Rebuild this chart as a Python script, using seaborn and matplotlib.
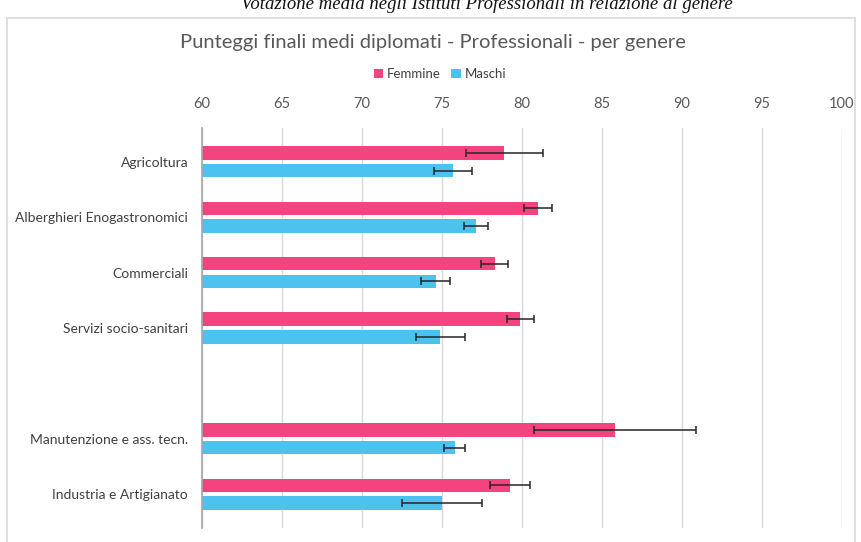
import matplotlib
matplotlib.use("Agg")
import matplotlib.pyplot as plt
from matplotlib.patches import Rectangle
import seaborn as sns
import pandas as pd

# ---- data ----
categories = ["Agricoltura", "Alberghieri Enogastronomici", "Commerciali",
              "Servizi socio-sanitari", "Manutenzione e ass. tecn.",
              "Industria e Artigianato"]
order = ["Agricoltura", "Alberghieri Enogastronomici", "Commerciali",
         "Servizi socio-sanitari", " ", "Manutenzione e ass. tecn.",
         "Industria e Artigianato"]
femmine = [78.9, 81.0, 78.3, 79.9, 85.8, 79.25]
maschi = [75.7, 77.1, 74.6, 74.9, 75.8, 75.0]
err_femmine = [2.4, 0.85, 0.85, 0.85, 5.05, 1.25]
err_maschi = [1.2, 0.75, 0.9, 1.55, 0.65, 2.5]
xticks = [60, 65, 70, 75, 80, 85, 90, 95, 100]
groups = ["Femmine", "Maschi"]

title = "Punteggi finali medi diplomati - Professionali - per genere"
top_title = "Votazione media negli Istituti Professionali in relazione al genere"

PINK = "#F4447F"
BLUE = "#4BC3EE"

df = pd.DataFrame({
    "cat": categories * 2,
    "genere": [groups[0]] * len(categories) + [groups[1]] * len(categories),
    "val": femmine + maschi,
    "err": err_femmine + err_maschi,
})

sns.set_theme(style="white")
plt.rcParams["font.family"] = ["Lato", "DejaVu Sans"]

fig = plt.figure(figsize=(8.62, 5.42), dpi=100)
ax = fig.add_axes([202 / 862, 1 - 528 / 542, 640 / 862, 400 / 542])

sns.barplot(data=df, x="val", y="cat", hue="genere", order=order,
            hue_order=groups, palette=[PINK, BLUE], orient="h",
            errorbar=None, width=0.64, gap=0.24, ax=ax, legend=True,
            saturation=1, linewidth=0)

# error bars from bar geometry
errs = {}
for c, ef, em in zip(categories, err_femmine, err_maschi):
    errs[(c, 0)] = ef
    errs[(c, 1)] = em
for p in ax.patches:
    if p.get_height() <= 0 or p.get_width() <= 0:
        continue
    yc = p.get_y() + p.get_height() / 2
    i = int(round(yc))
    if i < 0 or i >= len(order) or order[i].strip() == "":
        continue
    h = 0 if yc < i else 1
    key = (order[i], h)
    if key not in errs:
        continue
    ax.errorbar(p.get_width(), yc, xerr=errs[key], fmt="none",
                ecolor="#262626", elinewidth=1.1, capsize=3, capthick=1.1,
                zorder=5)

ax.set_xlim(60, 100)
ax.set_xticks(xticks)
ax.set_xticklabels([str(t) for t in xticks])
ax.xaxis.tick_top()
ax.tick_params(axis="x", length=0, pad=12, labelsize=10.5, labelcolor="#595959")
ax.tick_params(axis="y", length=0, pad=10, labelsize=10, labelcolor="#404040")
ax.set_xlabel("")
ax.set_ylabel("")
ax.grid(axis="x", color="#d9d9d9", linewidth=1)
ax.set_axisbelow(True)
for s in ["top", "right", "bottom"]:
    ax.spines[s].set_visible(False)
ax.spines["left"].set_color("#a6a6a6")
ax.spines["left"].set_linewidth(1.2)

leg = ax.legend(loc="center", bbox_to_anchor=(440 / 862, 1 - 74 / 542),
                bbox_transform=fig.transFigure, ncol=2, frameon=False,
                fontsize=9.5, handlelength=0.7, handleheight=0.7,
                handletextpad=0.3, columnspacing=0.8)
for t in leg.get_texts():
    t.set_color("#404040")

fig.text(433 / 862, 1 - 42 / 542, title, ha="center", va="center",
         fontsize=14.5, color="#595959")

fig.text(487 / 862, 1 - 9 / 542, top_title, ha="center", va="baseline",
         fontsize=13.5, fontstyle="italic", color="#111111",
         family=["Liberation Serif", "DejaVu Serif"])

fig.patches.append(Rectangle((7 / 862, -0.01), 848 / 862, 1 - 18 / 542 + 0.01,
                             transform=fig.transFigure, fill=False,
                             edgecolor="#d9d9d9", linewidth=1.2))

fig.savefig("out.png", dpi=100)
